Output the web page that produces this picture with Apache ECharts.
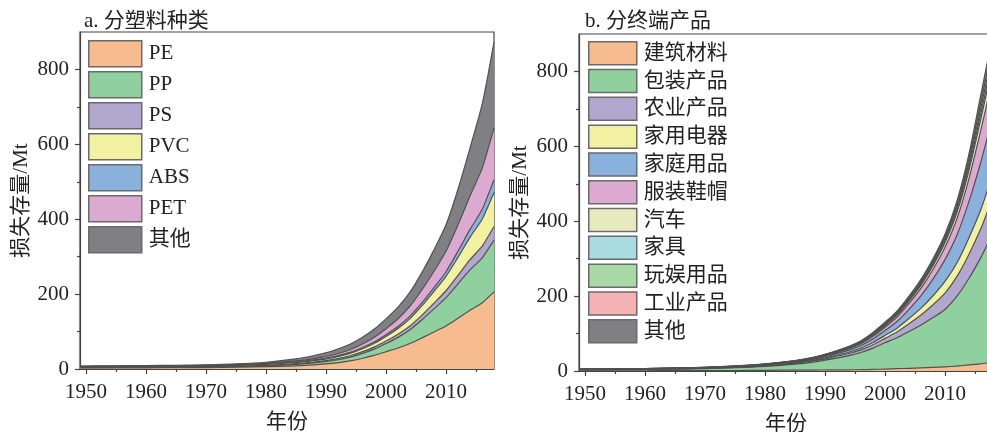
<!DOCTYPE html>
<html>
<head>
<meta charset="utf-8">
<script src="https://cdn.jsdelivr.net/npm/echarts@6/dist/echarts.min.js"></script>
<style>html,body{margin:0;padding:0;background:#fff;}#c{width:987px;height:432px;}</style>
</head>
<body>
<div id="c"></div>
<script>
// ---------- data ----------
const years = [1949,1955,1960,1965,1970,1975,1980,1985,1988,1991,1994,1996,1998,2000,2002,2004,2006,2008,2010,2012,2014,2016,2017,2018];

// panel a: by plastic type (Mt)
const plasticNames = ['PE','PP','PS','PVC','ABS','PET','其他'];
const PE    = [2.8,3.0,3.2,3.4,3.9,4.7,6.1,8.6,11.2,14.9,21.5,28.1,36.3,46.2,56.1,68.1,83.1,98.9,114.7,135.4,156.9,176.3,190.8,206.0];
const PP    = [1.0,1.0,1.1,1.2,1.3,1.6,2.3,3.8,5.2,7.2,10.1,13.0,16.7,21.8,28.4,36.9,48.5,61.7,75.8,92.2,108.0,119.9,128.7,137.9];
const PS    = [0.6,0.7,0.7,0.8,0.9,1.1,1.4,1.8,2.3,2.8,3.7,4.5,5.5,6.7,8.3,10.0,12.4,15.3,18.5,22.6,27.1,31.0,33.8,36.7];
const PVC   = [1.2,1.3,1.4,1.5,1.7,2.0,2.5,3.2,3.9,4.8,6.3,7.8,9.6,12.2,15.3,19.5,25.0,31.5,38.5,48.0,59.6,71.9,80.9,90.8];
const ABS   = [1.0,1.0,1.1,1.2,1.3,1.6,1.8,2.0,2.1,2.3,2.8,3.4,3.9,4.7,5.6,6.6,8.0,9.9,12.3,16.3,21.2,26.1,29.8,34.0];
const PET   = [0.4,0.4,0.5,0.5,0.6,0.7,1.1,2.1,3.2,4.8,7.1,9.3,12.2,16.1,20.6,26.7,34.6,43.9,54.7,70.6,89.1,109.3,123.2,137.9];
const OTH_A = [1.0,1.1,1.2,1.3,1.4,1.8,2.8,5.4,8.1,11.2,14.6,17.8,21.7,26.3,30.7,37.3,46.4,56.9,70.5,95.0,128.0,170.6,197.8,229.6];

// panel b: by end product (Mt)
const productNames = ['建筑材料','包装产品','农业产品','家用电器','家庭用品','服装鞋帽','汽车','家具','玩娱用品','工业产品','其他'];
const JZ = [0.5,0.6,0.7,0.8,1.0,1.4,1.9,2.3,2.6,2.8,3.1,3.6,4.3,5.2,6.1,7.2,8.3,9.6,11.0,13.2,16.2,19.2,21.3,23.4];
const BZ = [2.8,3.1,3.6,4.4,5.5,7.4,10.5,16.0,21.2,29.1,38.0,45.7,56.9,70.2,82.6,98.4,114.7,133.2,153.3,186.6,231.4,284.2,314.9,345.6];
const NY = [0.4,0.45,0.52,0.64,0.8,1.08,1.52,2.24,2.88,3.97,5.54,6.97,9.06,11.7,15.36,20.4,26.46,34.2,43.8,52.78,64.38,77.7,86.1,94.5];
const JD = [0.25,0.28,0.33,0.4,0.5,0.68,0.95,1.4,1.8,2.5,3.56,4.54,5.97,7.8,10.4,14.0,18.4,24.0,31.0,36.4,44.1,51.1,56.6,62.1];
const JT = [0.35,0.39,0.46,0.56,0.7,0.95,1.33,1.96,2.52,3.58,5.41,7.13,9.68,13.0,17.9,24.8,33.3,44.4,58.4,74.2,96.9,127.3,141.0,154.8];
const FZ = [0.25,0.28,0.33,0.4,0.5,0.68,0.95,1.4,1.8,2.55,3.83,5.02,6.8,9.1,11.8,15.6,20.1,25.8,32.9,44.1,60.9,85.8,95.1,104.4];
const QC = [0.1,0.11,0.13,0.16,0.2,0.27,0.38,0.63,0.86,1.25,1.78,2.27,2.99,3.9,4.96,6.4,8.09,10.2,12.8,16.4,22.0,29.6,32.8,36.0];
const JJ = [0.1,0.11,0.13,0.16,0.2,0.27,0.38,0.56,0.72,0.97,1.24,1.47,1.81,2.21,2.66,3.24,3.87,4.62,5.48,7.28,10.4,14.8,16.4,18.0];
const WY = [0.1,0.11,0.13,0.16,0.2,0.27,0.38,0.56,0.72,0.97,1.24,1.47,1.81,2.21,2.66,3.24,3.87,4.62,5.48,7.28,10.4,14.8,16.4,18.0];
const GY = [0.05,0.06,0.07,0.08,0.1,0.14,0.19,0.35,0.5,0.73,0.94,1.12,1.38,1.69,2.08,2.6,3.19,3.9,4.75,6.83,9.86,14.8,16.4,18.0];
const OTH_B = [0.15,0.17,0.2,0.24,0.3,0.41,0.57,0.7,0.79,0.99,1.4,1.77,2.31,2.99,3.49,4.12,4.75,5.46,6.2,9.1,13.3,20.7,23.0,25.2];

// axis ticks / labels
const yearLabels = [1950,1960,1970,1980,1990,2000,2010];
const yearMinor  = [1955,1965,1975,1985,1995,2005,2015];
const yLabels    = [0,200,400,600,800];
const yMinor     = [100,300,500,700];

const plasticColors = ['#f6bc8f','#8fd09e','#b1a7cf','#f1f1a1','#8ab0dc','#dcaad0','#808084'];
const productColors = ['#f6bc8f','#8fd09e','#b1a7cf','#f1f1a1','#8ab0dc','#dcaad0','#e9e9c0','#a8dce1','#a8d9a7','#f4b2b4','#808084'];

// ---------- chart ----------
const FONT = "'Liberation Serif','Noto Sans CJK SC',serif";
const TXT = '#222';
const AX = '#444';
const chart = echarts.init(document.getElementById('c'), null, {renderer:'canvas'});

function xAxes(gi){
  return [
    {type:'value', gridIndex:gi, position:'bottom', min:1949, max:2018,
     axisLine:{show:true, onZero:false, lineStyle:{color:AX, width:1.2}},
     axisTick:{show:true, length:5, customValues:yearLabels, lineStyle:{color:AX, width:1.2}},
     axisLabel:{customValues:yearLabels, margin:13, color:TXT, fontSize:21, fontFamily:FONT, formatter:v=>String(v)},
     splitLine:{show:false},
     name:'年份', nameLocation:'middle', nameGap:43,
     nameTextStyle:{color:TXT, fontSize:21, fontFamily:FONT}},
    {type:'value', gridIndex:gi, position:'bottom', min:1949, max:2018,
     axisLine:{show:false}, axisTick:{show:true, length:3, customValues:yearMinor, lineStyle:{color:AX, width:1.2}},
     axisLabel:{show:false}, splitLine:{show:false}}
  ];
}
function yAxes(gi){
  return [
    {type:'value', gridIndex:gi, position:'left', min:0, max:900,
     axisLine:{show:true, onZero:false, lineStyle:{color:AX, width:1.2}},
     axisTick:{show:true, length:5, customValues:yLabels, lineStyle:{color:AX, width:1.2}},
     axisLabel:{customValues:yLabels, margin:11, color:TXT, fontSize:21, fontFamily:FONT, formatter:v=>String(v)},
     splitLine:{show:false},
     name:'损失存量/Mt', nameLocation:'middle', nameGap:48,
     nameTextStyle:{color:TXT, fontSize:21, fontFamily:FONT}},
    {type:'value', gridIndex:gi, position:'left', min:0, max:900,
     axisLine:{show:false}, axisTick:{show:true, length:3, customValues:yMinor, lineStyle:{color:AX, width:1.2}},
     axisLabel:{show:false}, splitLine:{show:false}}
  ];
}
function mkSeries(names, arrays, colors, stack, axIdx){
  return names.map((n,i)=>({
    name:n, type:'line', stack:stack, xAxisIndex:axIdx, yAxisIndex:axIdx,
    // value first so that the library stacks the y dimension
    data: years.map((y,k)=>[arrays[i][k], y]),
    encode:{x:1, y:0},
    smooth:0.25, symbol:'none', clip:true,
    color: colors[i],
    itemStyle:{color:colors[i]},
    lineStyle:{color:'#505050', width:1.2, join:'round'},
    areaStyle:{color:colors[i], opacity:1},
    z: 2
  }));
}
const legendCommon = {
  orient:'vertical', icon:'rect', padding:0,
  itemStyle:{borderColor:'#6a6a6a', borderWidth:1.5},
  textStyle:{color:TXT, fontSize:21, fontFamily:FONT, padding:[0,0,0,2]},
  selectedMode:false
};

chart.setOption({
  animation:false,
  backgroundColor:'#fff',
  title:[
    {text:'a. 分塑料种类', left:79, top:6, textStyle:{color:TXT, fontSize:21, fontWeight:'normal', fontFamily:FONT}},
    {text:'b. 分终端产品', left:580, top:6, textStyle:{color:TXT, fontSize:21, fontWeight:'normal', fontFamily:FONT}}
  ],
  grid:[
    {left:80, top:32, width:414, height:337, show:true, borderColor:AX, borderWidth:1.2, backgroundColor:'transparent', containLabel:false, outerBoundsMode:'none'},
    {left:579, top:34, width:414, height:337, show:true, borderColor:AX, borderWidth:1.2, backgroundColor:'transparent', containLabel:false, outerBoundsMode:'none'}
  ],
  xAxis: xAxes(0).concat(xAxes(1)),
  yAxis: yAxes(0).concat(yAxes(1)),
  legend:[
    Object.assign({}, legendCommon, {data:plasticNames, left:88, top:40, itemWidth:53, itemHeight:26, itemGap:3.5}),
    Object.assign({}, legendCommon, {data:productNames, left:588, top:41, itemWidth:48, itemHeight:23, itemGap:3.3})
  ],
  series: mkSeries(plasticNames, [PE,PP,PS,PVC,ABS,PET,OTH_A], plasticColors, 'a', 0)
    .concat(mkSeries(productNames, [JZ,BZ,NY,JD,JT,FZ,QC,JJ,WY,GY,OTH_B], productColors, 'b', 2))
});
</script>
</body>
</html>
